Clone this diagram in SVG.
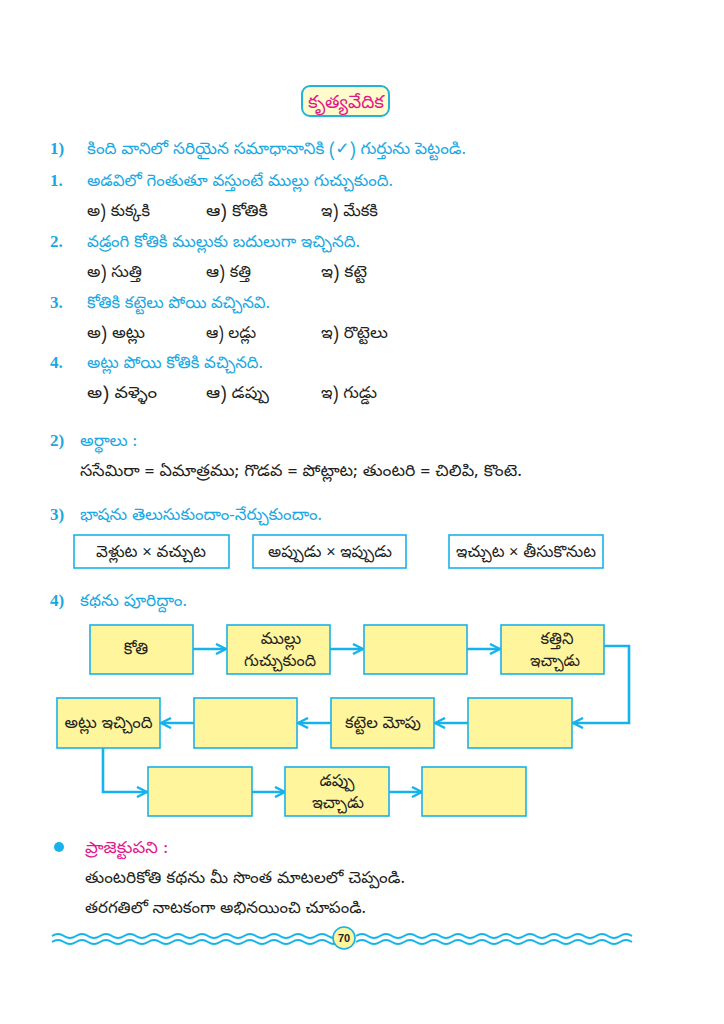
<svg xmlns="http://www.w3.org/2000/svg" width="724" height="1024" viewBox="0 0 724 1024">
<defs>
<style>
.te{font-family:"Noto Sans Telugu","Noto Sans","DejaVu Sans",sans-serif;font-size:16px;fill:#231f20}
.tb{font-family:"Noto Sans Telugu","Noto Sans","DejaVu Sans",sans-serif;font-size:16.5px;fill:#1aa8e2}
.tm{font-family:"Noto Sans Telugu","Noto Sans","DejaVu Sans",sans-serif;font-size:16px;fill:#e2198b}
.tx{font-family:"Noto Sans Telugu","Noto Sans","DejaVu Sans",sans-serif;font-size:16.5px;fill:#231f20}
.num{font-family:"Liberation Serif",serif;font-weight:bold;font-size:17px;fill:#1aa8e2}
.box{fill:#fff59d;stroke:#1ab2ea;stroke-width:1.6}
.wbox{fill:#ffffff;stroke:#1ab2ea;stroke-width:1.6}
.con{fill:none;stroke:#15b2ec;stroke-width:2.6;stroke-linejoin:miter}
.wave{fill:none;stroke:#15b2ec;stroke-width:1.8}
.c{text-anchor:middle}
</style>
<marker id="ah" viewBox="0 0 12 12" refX="11" refY="6" markerWidth="12" markerHeight="12" markerUnits="userSpaceOnUse" orient="auto">
<path d="M1,1 L11,6 L1,11" fill="none" stroke="#15b2ec" stroke-width="2.4"/>
</marker>
</defs>
<rect width="724" height="1024" fill="#ffffff"/>

<g id="title">
<rect x="302" y="86" width="87" height="30" rx="8" fill="#fffbcc" stroke="#22b3d9" stroke-width="2"/>
<text x="308" y="108" textLength="76" lengthAdjust="spacingAndGlyphs" style="font-family:'Noto Sans Telugu','Noto Sans',sans-serif;font-size:18px;fill:#e2198b">కృత్యవేదిక</text>
</g>

<g id="section1">
<text x="50" y="154" class="num">1)</text>
<text x="87" y="154" class="tb" textLength="379" lengthAdjust="spacingAndGlyphs">కింది వానిలో సరియైన సమాధానానికి (✓) గుర్తును పెట్టండి.</text>
<text x="50" y="186" class="num">1.</text>
<text x="87" y="186" class="tb" textLength="306" lengthAdjust="spacingAndGlyphs">అడవిలో గెంతుతూ వస్తుంటే ముల్లు గుచ్చుకుంది.</text>
<text x="87" y="216" class="te" textLength="63" lengthAdjust="spacingAndGlyphs">అ) కుక్కకి</text>
<text x="206" y="216" class="te" textLength="62" lengthAdjust="spacingAndGlyphs">ఆ) కోతికి</text>
<text x="321" y="216" class="te" textLength="57" lengthAdjust="spacingAndGlyphs">ఇ) మేకకి</text>
<text x="50" y="247" class="num">2.</text>
<text x="87" y="247" class="tb" textLength="273" lengthAdjust="spacingAndGlyphs">వడ్రంగి కోతికి ముల్లుకు బదులుగా ఇచ్చినది.</text>
<text x="87" y="277" class="te" textLength="55" lengthAdjust="spacingAndGlyphs">అ) సుత్తి</text>
<text x="206" y="277" class="te" textLength="45" lengthAdjust="spacingAndGlyphs">ఆ) కత్తి</text>
<text x="321" y="277" class="te" textLength="46" lengthAdjust="spacingAndGlyphs">ఇ) కట్టె</text>
<text x="50" y="308" class="num">3.</text>
<text x="87" y="308" class="tb" textLength="183" lengthAdjust="spacingAndGlyphs">కోతికి కట్టెలు పోయి వచ్చినవి.</text>
<text x="87" y="338" class="te" textLength="58" lengthAdjust="spacingAndGlyphs">అ) అట్లు</text>
<text x="206" y="338" class="te" textLength="50" lengthAdjust="spacingAndGlyphs">ఆ) లడ్లు</text>
<text x="321" y="338" class="te" textLength="67" lengthAdjust="spacingAndGlyphs">ఇ) రొట్టెలు</text>
<text x="50" y="368" class="num">4.</text>
<text x="87" y="368" class="tb" textLength="176" lengthAdjust="spacingAndGlyphs">అట్లు పోయి కోతికి వచ్చినది.</text>
<text x="87" y="398" class="te" textLength="70" lengthAdjust="spacingAndGlyphs">అ) వళ్ళెం</text>
<text x="206" y="398" class="te" textLength="63" lengthAdjust="spacingAndGlyphs">ఆ) డప్పు</text>
<text x="321" y="398" class="te" textLength="56" lengthAdjust="spacingAndGlyphs">ఇ) గుడ్డు</text>
</g>

<g id="section2">
<text x="50" y="446" class="num">2)</text>
<text x="80" y="446" class="tb" textLength="57" lengthAdjust="spacingAndGlyphs">అర్థాలు :</text>
<text x="80" y="476" class="te" textLength="442" lengthAdjust="spacingAndGlyphs">ససేమిరా = ఏమాత్రము; గొడవ = పోట్లాట; తుంటరి = చిలిపి, కొంటె.</text>
</g>

<g id="section3">
<text x="50" y="520" class="num">3)</text>
<text x="80" y="520" class="tb" textLength="242" lengthAdjust="spacingAndGlyphs">భాషను తెలుసుకుందాం-నేర్చుకుందాం.</text>
<g id="opp1"><rect x="74" y="535" width="155" height="33" class="wbox"/><text x="96" y="557" class="te" textLength="110" lengthAdjust="spacingAndGlyphs">వెళ్లుట × వచ్చుట</text></g>
<g id="opp2"><rect x="253" y="535" width="153" height="33" class="wbox"/><text x="268" y="557" class="te" textLength="124" lengthAdjust="spacingAndGlyphs">అప్పుడు × ఇప్పుడు</text></g>
<g id="opp3"><rect x="449" y="535" width="154" height="33" class="wbox"/><text x="456" y="557" class="te" textLength="140" lengthAdjust="spacingAndGlyphs">ఇచ్చుట × తీసుకొనుట</text></g>
</g>

<g id="section4">
<text x="50" y="606" class="num">4)</text>
<text x="80" y="606" class="tb" textLength="107" lengthAdjust="spacingAndGlyphs">కథను పూరిద్దాం.</text>
</g>

<g id="connectors">
<line x1="193" y1="649" x2="226" y2="649" class="con" marker-end="url(#ah)"/>
<line x1="330" y1="649" x2="363" y2="649" class="con" marker-end="url(#ah)"/>
<line x1="467" y1="649" x2="500" y2="649" class="con" marker-end="url(#ah)"/>
<polyline points="604,646 629,646 629,723 573,723" class="con" marker-end="url(#ah)"/>
<line x1="468" y1="723" x2="435" y2="723" class="con" marker-end="url(#ah)"/>
<line x1="331" y1="723" x2="298" y2="723" class="con" marker-end="url(#ah)"/>
<line x1="194" y1="723" x2="161" y2="723" class="con" marker-end="url(#ah)"/>
<polyline points="103,748 103,792 147,792" class="con" marker-end="url(#ah)"/>
<line x1="252" y1="792" x2="285" y2="792" class="con" marker-end="url(#ah)"/>
<line x1="389" y1="792" x2="422" y2="792" class="con" marker-end="url(#ah)"/>
</g>

<g id="n1"><rect x="90" y="625" width="103" height="49" class="box"/><text x="136" y="654" class="tx c">కోతి</text></g>
<g id="n2"><rect x="227" y="625" width="103" height="49" class="box"/><text x="281" y="644" class="tx c">ముల్లు</text><text x="280" y="666" class="tx c" textLength="72" lengthAdjust="spacingAndGlyphs">గుచ్చుకుంది</text></g>
<g id="n3"><rect x="364" y="625" width="103" height="49" class="box"/></g>
<g id="n4"><rect x="501" y="625" width="103" height="49" class="box"/><text x="557" y="644" class="tx c">కత్తిని</text><text x="555" y="666" class="tx c" textLength="50" lengthAdjust="spacingAndGlyphs">ఇచ్చాడు</text></g>
<g id="n5"><rect x="468" y="698" width="104" height="50" class="box"/></g>
<g id="n6"><rect x="331" y="698" width="103" height="50" class="box"/><text x="383" y="728" class="tx c" textLength="76" lengthAdjust="spacingAndGlyphs">కట్టెల మోపు</text></g>
<g id="n7"><rect x="194" y="698" width="103" height="50" class="box"/></g>
<g id="n8"><rect x="57" y="698" width="103" height="50" class="box"/><text x="108.5" y="728" class="tx c" textLength="88" lengthAdjust="spacingAndGlyphs">అట్లు ఇచ్చింది</text></g>
<g id="n9"><rect x="148" y="767" width="104" height="49" class="box"/></g>
<g id="n10"><rect x="285" y="767" width="104" height="49" class="box"/><text x="337" y="786" class="tx c">డప్పు</text><text x="338" y="808" class="tx c" textLength="52" lengthAdjust="spacingAndGlyphs">ఇచ్చాడు</text></g>
<g id="n11"><rect x="422" y="767" width="104" height="49" class="box"/></g>

<g id="project">
<circle cx="59" cy="847" r="5" fill="#1ab2ea"/>
<text x="85" y="853" class="tm" textLength="83" lengthAdjust="spacingAndGlyphs">ప్రాజెక్టుపని :</text>
<text x="85" y="883" class="te" textLength="320" lengthAdjust="spacingAndGlyphs">తుంటరికోతి కథను మీ సొంత మాటలలో చెప్పండి.</text>
<text x="85" y="913" class="te" textLength="281" lengthAdjust="spacingAndGlyphs">తరగతిలో నాటకంగా అభినయించి చూపండి.</text>
</g>

<g id="footer">
<path class="wave" d="M52,936 q6,-4 12,0 t12,0 t12,0 t12,0 t12,0 t12,0 t12,0 t12,0 t12,0 t12,0 t12,0 t12,0 t12,0 t12,0 t12,0 t12,0 t12,0 t12,0 t12,0 t12,0 t12,0 t12,0 t12,0 t12,0"/>
<path class="wave" d="M52,942 q6,-4 12,0 t12,0 t12,0 t12,0 t12,0 t12,0 t12,0 t12,0 t12,0 t12,0 t12,0 t12,0 t12,0 t12,0 t12,0 t12,0 t12,0 t12,0 t12,0 t12,0 t12,0 t12,0 t12,0 t12,0"/>
<path class="wave" d="M356,936 q6,-4 12,0 t12,0 t12,0 t12,0 t12,0 t12,0 t12,0 t12,0 t12,0 t12,0 t12,0 t12,0 t12,0 t12,0 t12,0 t12,0 t12,0 t12,0 t12,0 t12,0 t12,0 t12,0 t12,0"/>
<path class="wave" d="M356,942 q6,-4 12,0 t12,0 t12,0 t12,0 t12,0 t12,0 t12,0 t12,0 t12,0 t12,0 t12,0 t12,0 t12,0 t12,0 t12,0 t12,0 t12,0 t12,0 t12,0 t12,0 t12,0 t12,0 t12,0"/>
<circle cx="344" cy="938" r="11" fill="#fff59d" stroke="#15b2ec" stroke-width="1.6"/>
<text x="344" y="942" class="c" style="font-family:'Liberation Sans',sans-serif;font-weight:bold;font-size:11px;fill:#231f20">70</text>
</g>
</svg>
